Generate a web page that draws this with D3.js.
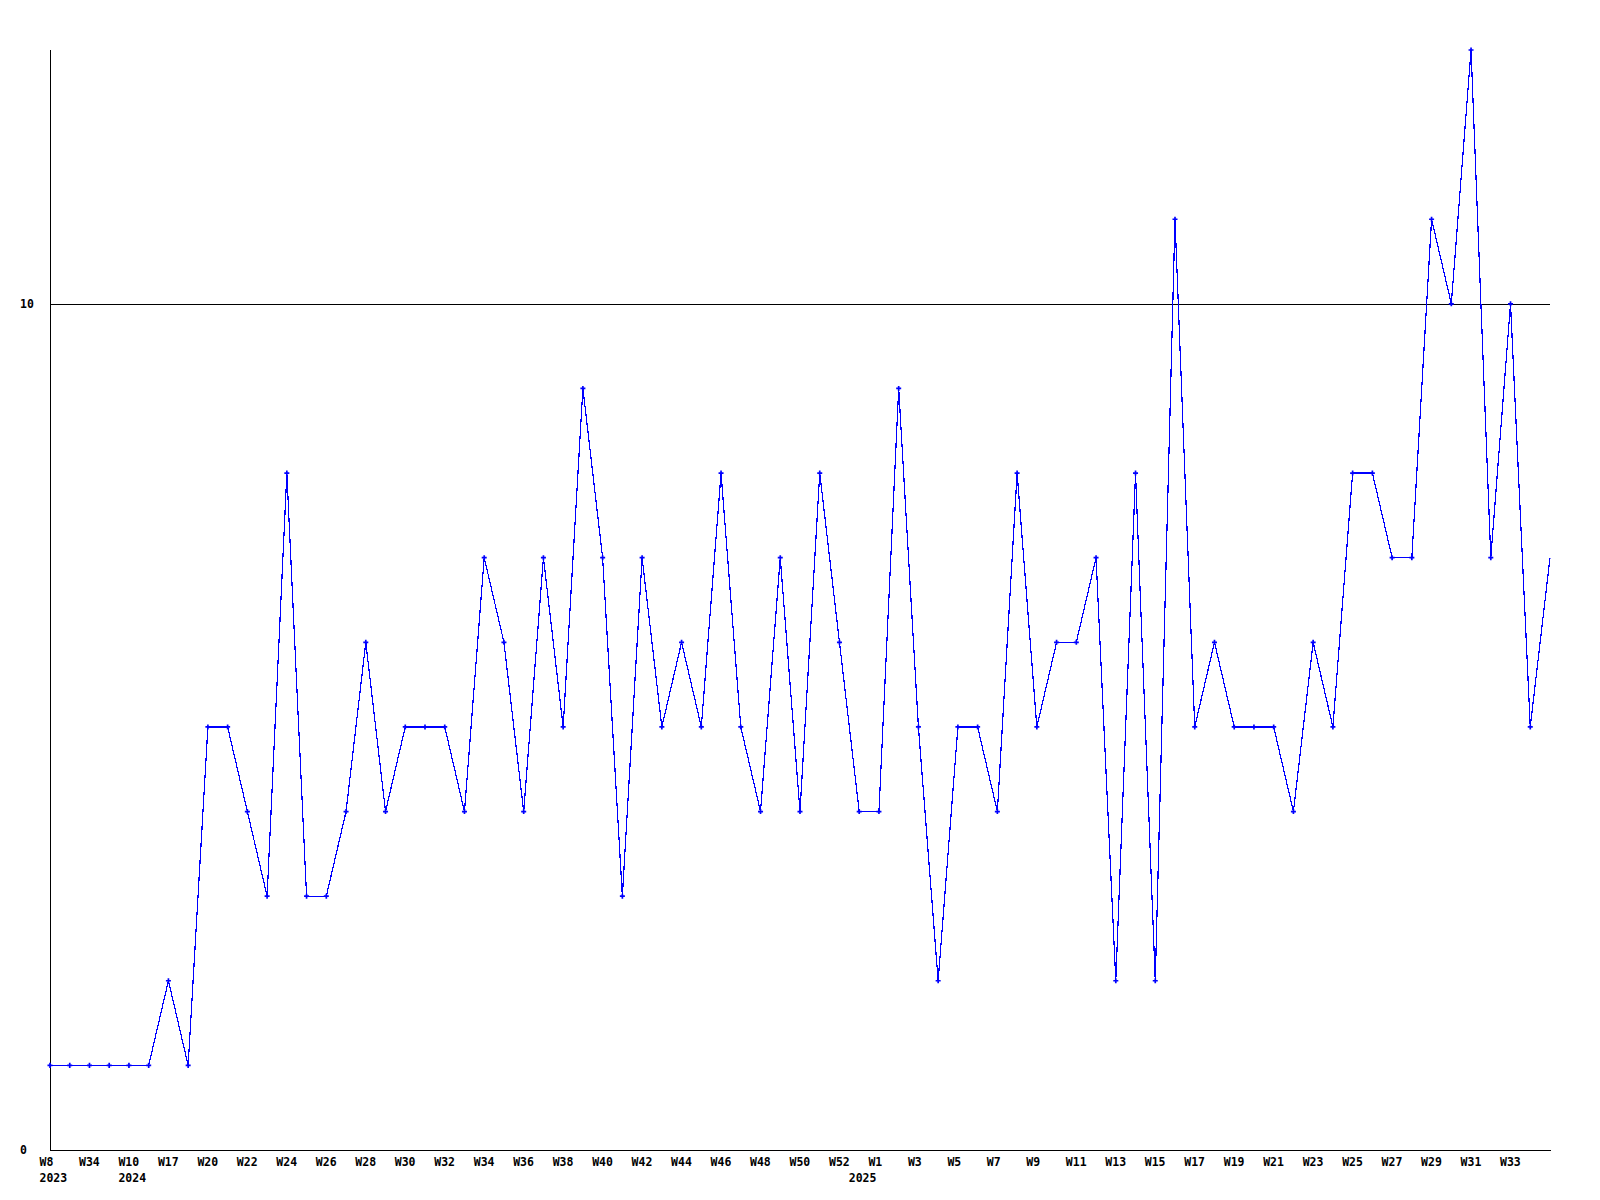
<!DOCTYPE html>
<html>
<head>
<meta charset="utf-8">
<script src="https://cdn.jsdelivr.net/npm/d3@7"></script>
<style>
  html, body { margin: 0; padding: 0; background: #fff; }
  svg { display: block; }
  text { font-family: "DejaVu Sans Mono", "Liberation Mono", monospace; font-weight: bold; font-size: 11.5px; fill: #000; }
</style>
</head>
<body>
<svg id="chart" width="1600" height="1200"></svg>
<script>
// ---- data ----
const weeks = [
  "W8","W21","W34","W47",
  "W10","W14","W17","W18","W20","W21","W22","W23","W24","W25","W26","W27","W28","W29","W30","W31","W32","W33","W34","W35","W36","W37","W38","W39","W40","W41","W42","W43","W44","W45","W46","W47","W48","W49","W50","W51","W52",
  "W0","W1","W2","W3","W4","W5","W6","W7","W8","W9","W10","W11","W12","W13","W14","W15","W16","W17","W18","W19","W20","W21","W22","W23","W24","W25","W26","W27","W28","W29","W30","W31","W32","W33","W34","W35"
];
const years = [
  "2023","2023","2023","2023",
  "2024","2024","2024","2024","2024","2024","2024","2024","2024","2024","2024","2024","2024","2024","2024","2024","2024","2024","2024","2024","2024","2024","2024","2024","2024","2024","2024","2024","2024","2024","2024","2024","2024","2024","2024","2024","2024",
  "2025","2025","2025","2025","2025","2025","2025","2025","2025","2025","2025","2025","2025","2025","2025","2025","2025","2025","2025","2025","2025","2025","2025","2025","2025","2025","2025","2025","2025","2025","2025","2025","2025","2025","2025","2025"
];
const values = [
  1,1,1,1,
  1,1,2,1,5,5,4,3,8,3,3,4,6,4,5,5,5,4,7,6,4,7,5,9,7,3,7,5,6,5,8,5,4,7,4,8,6,
  4,4,9,5,2,5,5,4,8,5,6,6,7,2,8,2,11,5,6,5,5,5,4,6,5,8,8,7,7,11,10,13,7,10,5,7
];
const yTicks = [0, 10];
const yMax = 13;

// ---- layout ----
const mLeft = 50, mRight = 1550, mTop = 50, mBottom = 1150;
const svg = d3.select("#chart");

const idx = d3.range(values.length);
const x = d3.scalePoint().domain(idx).range([mLeft, mRight]);
const y = d3.scaleLinear().domain([0, yMax]).range([mBottom, mTop]);

// gridline(s) for non-zero ticks
svg.append("g").selectAll("line")
  .data(yTicks.filter(d => d > 0))
  .join("line")
  .attr("x1", mLeft).attr("x2", mRight)
  .attr("y1", d => Math.round(y(d)) + 0.5).attr("y2", d => Math.round(y(d)) + 0.5)
  .attr("stroke", "#000").attr("stroke-width", 1)
  .attr("shape-rendering", "crispEdges");

// axes lines
svg.append("line")
  .attr("x1", mLeft + 0.5).attr("x2", mLeft + 0.5)
  .attr("y1", mTop).attr("y2", mBottom + 0.5)
  .attr("stroke", "#000").attr("shape-rendering", "crispEdges");
svg.append("line")
  .attr("x1", mLeft).attr("x2", mRight + 1)
  .attr("y1", mBottom + 0.5).attr("y2", mBottom + 0.5)
  .attr("stroke", "#000").attr("shape-rendering", "crispEdges");

// y tick labels
svg.append("g").selectAll("text")
  .data(yTicks)
  .join("text")
  .attr("x", 20)
  .attr("y", d => y(d))
  .attr("dy", "0.35em")
  .attr("text-anchor", "start")
  .text(d => d);

// x week labels (every second category, not the last one)
svg.append("g").selectAll("text")
  .data(idx.filter(i => i % 2 === 0 && i < idx.length - 1))
  .join("text")
  .attr("x", i => x(i) - 10.5)
  .attr("y", mBottom + 16)
  .attr("text-anchor", "start")
  .text(i => weeks[i]);

// year labels at first category of each year
svg.append("g").selectAll("text")
  .data(idx.filter(i => i === 0 || years[i] !== years[i - 1]))
  .join("text")
  .attr("x", i => x(i) - 10.5)
  .attr("y", mBottom + 32)
  .attr("text-anchor", "start")
  .text(i => years[i]);

// clips for plot area
svg.append("clipPath").attr("id", "plotclip")
  .append("rect").attr("x", mLeft).attr("y", mTop - 5).attr("width", mRight - mLeft + 0.5).attr("height", mBottom - mTop + 5);
svg.append("clipPath").attr("id", "markclip")
  .append("rect").attr("x", mLeft - 5).attr("y", mTop - 5).attr("width", mRight - mLeft + 1).attr("height", mBottom - mTop + 5);

const plot = svg.append("g").attr("clip-path", "url(#plotclip)");

const line = d3.line().x(i => x(i)).y(i => y(values[i]));
plot.append("path")
  .datum(idx)
  .attr("d", line)
  .attr("fill", "none")
  .attr("stroke", "#0000ff")
  .attr("stroke-width", 1.2)
  .attr("shape-rendering", "crispEdges");

const sym = d3.symbol().type(d3.symbolCross).size(14);
svg.append("g").attr("clip-path", "url(#markclip)").selectAll("path")
  .data(idx)
  .join("path")
  .attr("transform", i => `translate(${x(i)},${y(values[i])})`)
  .attr("d", sym)
  .attr("fill", "#0000ff");
</script>
</body>
</html>
